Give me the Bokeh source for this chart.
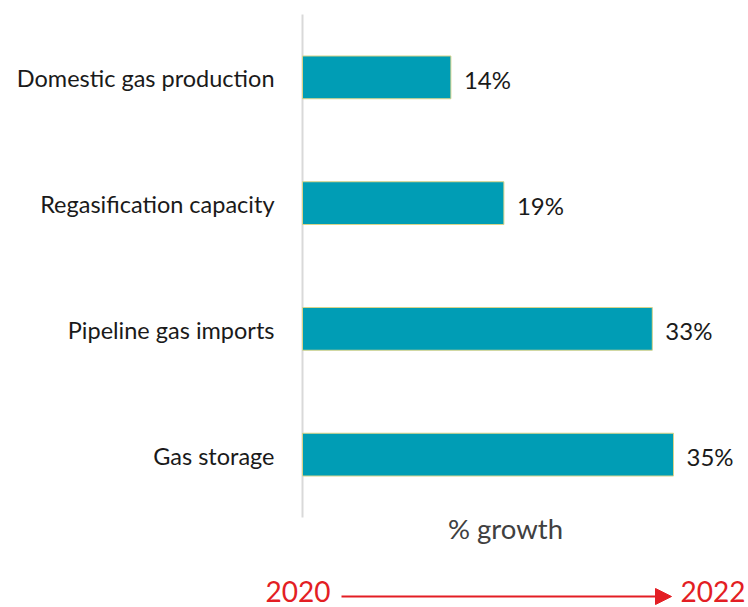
from bokeh.plotting import figure
from bokeh.models import ColumnDataSource, Arrow, NormalHead, Range1d
from bokeh.embed import file_html
from bokeh.resources import INLINE
from bokeh.core.properties import value

categories = ["Domestic gas production", "Regasification capacity", "Pipeline gas imports", "Gas storage"]
growth = [14, 19, 33, 35]
value_labels = ["14%", "19%", "33%", "35%"]
axis_title = "% growth"
period_start = "2020"
period_end = "2022"

TEAL = "#009db5"
RED = "#e31e24"
FONT = "Lato"

# layout constants (pixels)
W, H = 748, 607
LEFT = 302          # x position of the value axis (0 %)
TOP, BOTTOM = 14, 517   # vertical extent of the category band
PX_X = 10.6         # pixels per percentage point
n = len(categories)
PX_Y = (BOTTOM - TOP) / n

ypos = [n - i - 0.5 for i in range(n)]
src = ColumnDataSource(dict(y=ypos, cat=categories, val=growth, lab=value_labels,
                            zero=[0] * n))

p = figure(width=W, height=H,
           x_range=Range1d(-LEFT / PX_X, (W - LEFT) / PX_X),
           y_range=Range1d(-(H - BOTTOM) / PX_Y, n + TOP / PX_Y),
           output_backend="svg", toolbar_location=None,
           min_border_left=0, min_border_right=0, min_border_top=0, min_border_bottom=0)
p.outline_line_color = None
p.grid.visible = False
p.axis.visible = False

# category axis line
p.segment(x0=0, y0=0, x1=0, y1=n, line_color="#d9d9d9", line_width=2)

# category labels
p.text(x="zero", y="y", text="cat", source=src, x_offset=-28, y_offset=1,
       text_align="right", text_baseline="middle",
       text_font=value(FONT), text_font_size="23.5px", text_color="#1a1a1a")

# bars
p.hbar(y="y", left=0, right="val", height=0.34, source=src,
       fill_color=TEAL, line_color="#d8d48a", line_width=1)

# value labels
p.text(x="val", y="y", text="lab", source=src, x_offset=13, y_offset=2,
       text_baseline="middle", text_align="left",
       text_font=value(FONT), text_font_size="24px", text_color="#1a1a1a")

# axis title
p.text(x=[19.15], y=[-11 / PX_Y], text=[axis_title], text_align="center", text_baseline="middle",
       text_font=value(FONT), text_font_size="27.5px", text_color="#404040")

# period arrow
arrow_y = -(596 - BOTTOM) / PX_Y
p.add_layout(Arrow(x_start=(341 - LEFT) / PX_X, x_end=(671 - LEFT) / PX_X,
                   y_start=arrow_y, y_end=arrow_y,
                   line_color=RED, line_width=2,
                   end=NormalHead(size=16, fill_color=RED, line_color=RED)))
year_y = -(591 - BOTTOM) / PX_Y
p.text(x=[(330 - LEFT) / PX_X], y=[year_y], text=[period_start], text_align="right",
       text_baseline="middle", text_font=value(FONT), text_font_size="28px", text_color=RED)
p.text(x=[(680 - LEFT) / PX_X], y=[year_y], text=[period_end], text_align="left",
       text_baseline="middle", text_font=value(FONT), text_font_size="28px", text_color=RED)

open("out.html", "w").write(file_html(p, INLINE))
